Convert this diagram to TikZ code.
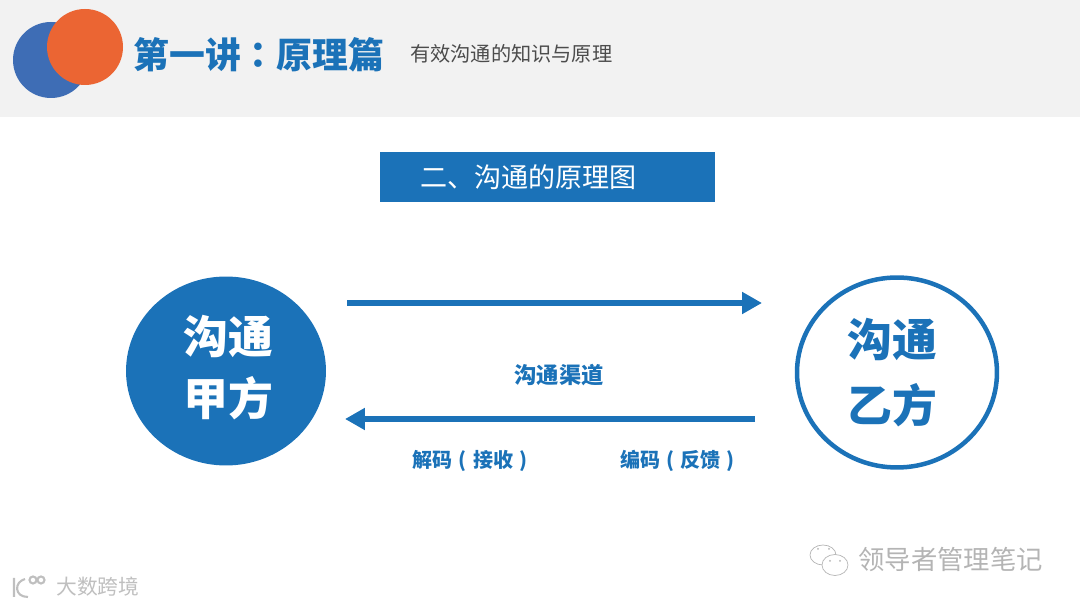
\documentclass[tikz,border=0pt]{standalone}
\usepackage{fontspec}
\setmainfont{Noto Sans CJK SC}
\newfontfamily\heavyfont{Noto Sans CJK SC Black}
\newfontfamily\tcfont{Noto Sans CJK TC}
\newcommand{\lparen}{\makebox[1em][c]{(}}
\newcommand{\rparen}{\makebox[1em][c]{)}}
\usetikzlibrary{arrows.meta, positioning, shapes.geometric}
\definecolor{mainblue}{HTML}{1B72B8}
\definecolor{headgray}{HTML}{F2F2F2}
\definecolor{leftblue}{HTML}{3E6DB5}
\definecolor{rightorange}{HTML}{EB6533}
\definecolor{markgray}{HTML}{B4B4B4}

\begin{document}
\begin{tikzpicture}[
        x=0.02cm, y=-0.02cm,
        party/.style={ellipse, align=center, inner sep=0pt, font=\fontsize{25.5pt}{35.7pt}\selectfont\bfseries},
        tag/.style={text=mainblue, font=\fontsize{11.4pt}{14pt}\selectfont\bfseries, inner sep=0pt},
        wmark/.style={text=markgray, inner sep=0pt},
        arrow/.style={-{Triangle[length=0.4cm, width=0.42cm]}, draw=mainblue, line width=0.12cm},
        icon/.style={draw=markgray, line width=0.4pt, fill=white},
        logo/.style={draw=black!25, line width=1.2pt},
    ]
    \useasboundingbox (0,0) rectangle (1080,607);

    % header band
    \fill[headgray] (0,0) rectangle (1080,117);
    \fill[leftblue] (51,60) circle [x radius=38, y radius=38];
    \fill[rightorange] (85,47) circle [x radius=38, y radius=38];
    \node[text=mainblue, inner sep=0pt, anchor=west, font=\fontsize{20.4pt}{24pt}\selectfont\heavyfont] (title) at (133,55) {第一讲{\tcfont\bfseries ：}原理篇};
    \node[text=black!70, inner sep=0pt, anchor=west, font=\fontsize{11.5pt}{14pt}\selectfont] (subtitle) at (410,54) {有效沟通的知识与原理};

    % banner
    \node[fill=mainblue, text=white, minimum width=6.7cm, minimum height=1cm, text width=5.1cm, inner sep=0pt,
          align=left, font=\fontsize{15.4pt}{18pt}\selectfont] (banner) at (547.5,177) {二、沟通的原理图};

    % two parties
    \node[party, fill=mainblue, text=white, minimum width=4cm, minimum height=3.78cm] (jia) at (226,371) {\hspace*{3pt}沟通\\\hspace*{3pt}甲方\rule[-6.5pt]{0pt}{0pt}};
    \node[party, draw=mainblue, line width=0.09cm, fill=white, text=mainblue, minimum width=4cm, minimum height=3.8cm] (yi) at (897,372.5) {沟通\hspace*{5.5pt}\\[1.5pt]乙方\hspace*{5.5pt}};

    % channel arrows
    \coordinate (upstart) at (347,303);
    \coordinate (upend) at (762,303);
    \coordinate (downstart) at (755,419);
    \coordinate (downend) at (345,419);
    \draw[arrow] (upstart) -- (upend);
    \draw[arrow] (downstart) -- (downend);

    % labels
    \node[tag, font=\fontsize{12.7pt}{15pt}\selectfont\bfseries] (channel) at (559,375) {沟通渠道};
    \node[tag] (decode) at (473,460.5) {解码\lparen 接收\rparen};
    \node[tag] (encode) at (680.5,460.5) {编码\lparen 反馈\rparen};

    % watermarks
    \draw[icon] (823,555) circle [x radius=13, y radius=10];
    \draw[icon] (835,565) circle [x radius=13, y radius=10.5];
    \fill[markgray] (818,549) circle [radius=1] (829,549) circle [radius=1] (830,561) circle [radius=1] (840,561) circle [radius=1];
    \node[wmark, anchor=west, font=\fontsize{15pt}{18pt}\selectfont] (account) at (858,559) {领导者管理笔记};
    \draw[logo] (14,578) -- (14,597) (25,579) .. controls (14,582) and (14,597) .. (28,597);
    \draw[logo] (33,580) circle [radius=3.5] (41,580) circle [radius=3.5];
    \node[wmark, anchor=west, text=black!25, font=\fontsize{11.8pt}{15pt}\selectfont] (source) at (56,587) {大数跨境};

\end{tikzpicture}
\end{document}
